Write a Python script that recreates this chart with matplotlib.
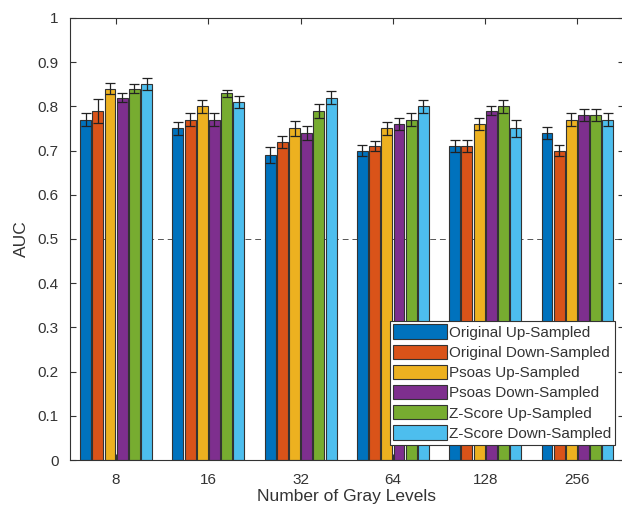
import numpy as np
import matplotlib.pyplot as plt

plt.rcParams['font.family'] = ['Liberation Sans', 'DejaVu Sans']

# Data
gray_levels = ["8", "16", "32", "64", "128", "256"]
series_names = ["Original Up-Sampled", "Original Down-Sampled", "Psoas Up-Sampled",
                "Psoas Down-Sampled", "Z-Score Up-Sampled", "Z-Score Down-Sampled"]
orig_up = [0.77, 0.75, 0.69, 0.70, 0.71, 0.74]
orig_down = [0.79, 0.77, 0.72, 0.71, 0.71, 0.70]
psoas_up = [0.84, 0.80, 0.75, 0.75, 0.76, 0.77]
psoas_down = [0.82, 0.77, 0.74, 0.76, 0.79, 0.78]
z_up = [0.84, 0.83, 0.79, 0.77, 0.80, 0.78]
z_down = [0.85, 0.81, 0.82, 0.80, 0.75, 0.77]
orig_up_err = [0.014, 0.014, 0.018, 0.012, 0.014, 0.014]
orig_down_err = [0.027, 0.014, 0.014, 0.012, 0.014, 0.012]
psoas_up_err = [0.012, 0.014, 0.016, 0.014, 0.014, 0.014]
psoas_down_err = [0.010, 0.014, 0.016, 0.014, 0.010, 0.014]
z_up_err = [0.010, 0.008, 0.016, 0.014, 0.014, 0.014]
z_down_err = [0.014, 0.014, 0.014, 0.014, 0.020, 0.014]

values = [orig_up, orig_down, psoas_up, psoas_down, z_up, z_down]
errors = [orig_up_err, orig_down_err, psoas_up_err, psoas_down_err, z_up_err, z_down_err]
colors = ["#0072BD", "#D95319", "#EDB120", "#7E2F8E", "#77AC30", "#4DBEEE"]

fig = plt.figure(figsize=(6.22, 5.11), dpi=100)
ax = fig.add_axes([0.1125, 0.0998, 0.89, 0.865])

x = np.arange(1, len(gray_levels) + 1)
slot = 0.132
for i, (vals, errs) in enumerate(zip(values, errors)):
    pos = x + (i - 2.5) * slot
    ax.bar(pos, vals, width=0.118, color=colors[i], edgecolor="#333333",
           linewidth=0.8, label=series_names[i], zorder=2)
    ax.errorbar(pos, vals, yerr=errs, fmt="none", ecolor="#222222",
                elinewidth=0.9, capsize=3.5, capthick=0.9, zorder=3)

ax.axhline(0.5, color="#555555", linestyle=(0, (6, 4)), linewidth=0.7, zorder=1)

ax.set_xlim(0.5, 6.5)
ax.set_ylim(0, 1)
ax.set_xticks(x)
ax.set_xticklabels(gray_levels)
ax.set_yticks(np.arange(0, 1.01, 0.1))
ax.set_yticklabels(["0", "0.1", "0.2", "0.3", "0.4", "0.5", "0.6", "0.7", "0.8", "0.9", "1"])
ax.tick_params(direction="in", top=True, right=True, labelsize=11,
               colors="#333333", length=4)
ax.tick_params(axis="x", pad=9)
ax.tick_params(axis="y", pad=8)
for s in ax.spines.values():
    s.set_color("#333333")
    s.set_linewidth(0.8)

ax.set_xlabel("Number of Gray Levels", fontsize=12.5, color="#333333", labelpad=2)
ax.set_ylabel("AUC", fontsize=12.5, color="#333333", labelpad=6)

leg = ax.legend(loc="lower right", bbox_to_anchor=(0.985, 0.035), fontsize=11,
                handlelength=3.5, handleheight=1.05, handletextpad=0.15,
                labelspacing=0.32, borderpad=0.25, borderaxespad=0.0,
                frameon=True, fancybox=False, edgecolor="#333333", framealpha=1)
leg.get_frame().set_linewidth(0.8)
for t in leg.get_texts():
    t.set_color("#333333")

fig.savefig("out.png", dpi=100)
